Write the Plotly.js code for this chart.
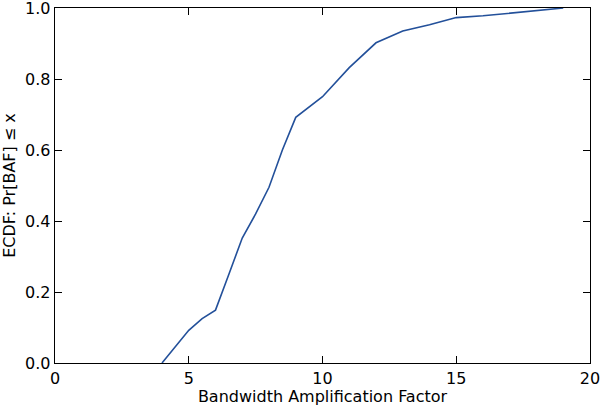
<!DOCTYPE html>
<html><head><meta charset="utf-8">
<script src="https://cdn.plot.ly/plotly-3.0.1.min.js"></script>
<style>body{margin:0;padding:0;background:#fff}#chart{width:600px;height:410px}</style>
</head><body><div id="chart"></div>
<script>
const bafValues = [4, 5, 5.5, 6, 6.5, 7, 7.5, 8, 8.5, 9, 10, 11, 12, 13, 14, 15, 16, 17, 18, 19];
const ecdfValues = [0, 0.092, 0.125, 0.149, 0.25, 0.352, 0.42, 0.495, 0.6, 0.692, 0.75, 0.832, 0.902, 0.935, 0.953, 0.973, 0.978, 0.985, 0.993, 1.0];
const xTicks = [0, 5, 10, 15, 20];
const yTicks = [0, 0.2, 0.4, 0.6, 0.8, 1.0];

const font = {family: 'DejaVu Sans', size: 16, color: '#000'};
const axisCommon = {
  showgrid: false, zeroline: false, showline: true, mirror: 'ticks',
  linecolor: '#000', linewidth: 1.3, ticks: 'inside', ticklen: 7,
  tickcolor: '#000', tickwidth: 1, tickfont: font, ticklabeloverflow: 'allow'
};
Plotly.newPlot('chart', [{
  x: bafValues, y: ecdfValues, type: 'scatter', mode: 'lines',
  line: {color: '#23509a', width: 1.6}, hoverinfo: 'skip', cliponaxis: false
}], {
  width: 600, height: 410,
  margin: {l: 55, r: 10, t: 8, b: 47},
  paper_bgcolor: '#fff', plot_bgcolor: '#fff',
  showlegend: false,
  xaxis: Object.assign({}, axisCommon, {
    range: [0, 20], tickvals: xTicks, ticktext: xTicks.map(String),
    title: {text: 'Bandwidth Amplification Factor', font: font, standoff: 4}
  }),
  yaxis: Object.assign({}, axisCommon, {
    range: [0, 1], tickvals: yTicks, ticktext: yTicks.map(v => v.toFixed(1)),
    title: {text: 'ECDF: Pr[BAF] ≤ x', font: font, standoff: 6}
  })
}, {staticPlot: true, displayModeBar: false});
</script></body></html>
